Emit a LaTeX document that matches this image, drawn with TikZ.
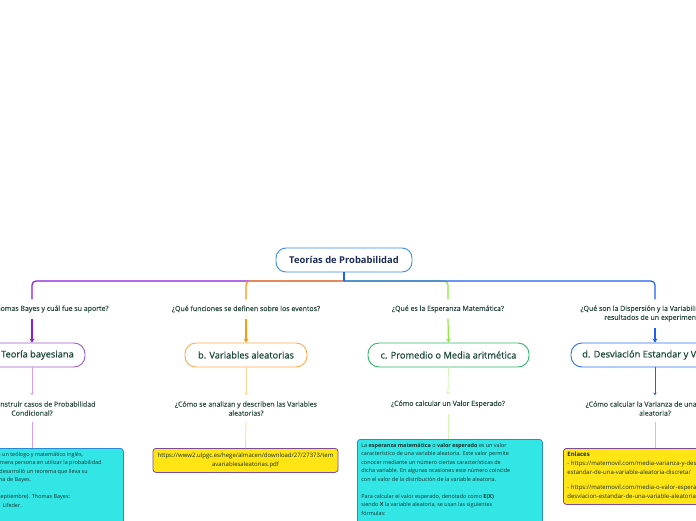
\documentclass[tikz,border=0pt]{standalone}
\usepackage{fontspec}
\setmainfont{Open Sans}
\newfontfamily\medfont{Open Sans}[FakeBold=0.6]
\newfontfamily\lblfont{Open Sans}[FakeBold=0.25]
\usetikzlibrary{arrows.meta}
\definecolor{rootblue}{HTML}{3A8EE0}
\definecolor{rootText}{HTML}{1D2C5A}
\definecolor{boxText}{HTML}{1E4A3B}
\definecolor{labelText}{HTML}{2B4A40}
\definecolor{noteText}{HTML}{17302A}
\definecolor{purpleMain}{HTML}{8A1CE0}
\definecolor{purpleBox}{HTML}{9B5CC8}
\definecolor{purpleLight}{HTML}{D8A0F2}
\definecolor{orangeMain}{HTML}{FF9A0D}
\definecolor{orangeBox}{HTML}{FFA94D}
\definecolor{orangeLight}{HTML}{FFD699}
\definecolor{greenMain}{HTML}{8CEB3F}
\definecolor{greenBox}{HTML}{30B86B}
\definecolor{greenLight}{HTML}{D6F5B3}
\definecolor{blueMain}{HTML}{1E5EF0}
\definecolor{blueBox}{HTML}{2B6FF2}
\definecolor{blueLight}{HTML}{B5C9F2}
\definecolor{cyanFill}{HTML}{33E6E6}
\definecolor{cyanBorder}{HTML}{2A8AD4}
\definecolor{yellowFill}{HTML}{FFE514}
\definecolor{yellowBorder}{HTML}{7A4C9C}
\begin{document}
\begin{tikzpicture}[x=1pt,y=-1pt,
  rootbox/.style={draw=rootblue, line width=0.9pt, rounded corners=10pt, fill=white,
    minimum width=136pt, minimum height=24pt, inner sep=0pt, text=rootText,
    font=\fontsize{9.4}{11}\selectfont\bfseries},
  lvlbox/.style={draw, line width=0.9pt, rounded corners=11pt, fill=white,
    minimum height=24pt, inner sep=0pt, text=boxText, font=\medfont\fontsize{9.3}{11}\selectfont},
  qlabel/.style={align=center, inner xsep=2pt, inner ysep=6pt, text=labelText,
    font=\lblfont\fontsize{7}{9}\selectfont},
  notebox/.style={draw, line width=0.8pt, rounded corners=3pt, inner xsep=4pt, inner ysep=3.5pt,
    text=noteText, font=\fontsize{5.45}{8.5}\selectfont, anchor=north west},
  linkfont/.style={font=\fontsize{6}{9}\selectfont},
  branch/.style={line width=1.2pt, rounded corners=4pt},
  arr/.style={line width=1.2pt, -{Stealth[length=4pt,width=5pt]}},
  lowarr/.style={line width=0.8pt, -{Stealth[length=2.5pt,width=3.5pt]}},
  lowline/.style={line width=0.8pt}
]
\clip (0,0) rectangle (696,520);
\fill[white] (0,0) rectangle (696,520);

% root
\node[rootbox] (root) at (344,260) {Teorías de Probabilidad};
\coordinate (hub) at (344,281);

% level-1 questions
\node[qlabel] (qa) at (32,309) {¿Quién fue Thomas Bayes y cuál fue su aporte?};
\node[qlabel] (qb) at (246,309) {¿Qué funciones se definen sobre los eventos?};
\node[qlabel] (qc) at (448,309) {¿Qué es la Esperanza Matemática?};
\node[qlabel] (qd) at (655,313.5) {¿Qué son la Dispersión y la Variabilidad de los\\resultados de un experimento?};

% level-1 boxes
\node[lvlbox, draw=purpleBox, minimum width=106pt] (ta) at (32,355) {a. Teoría bayesiana};
\node[lvlbox, draw=orangeBox, minimum width=122pt] (tb) at (246,355) {b. Variables aleatorias};
\node[lvlbox, draw=greenBox, minimum width=161pt] (tc) at (448.5,355) {c. Promedio o Media aritmética};
\node[lvlbox, draw=blueBox, minimum width=168pt] (td) at (655,355) {d. Desviación Estandar y Varianza};

% level-2 questions
\node[qlabel] (ra) at (32,408.5) {¿Cómo construir casos de Probabilidad\\Condicional?};
\node[qlabel] (rb) at (246,408.5) {¿Cómo se analizan y describen las Variables\\aleatorias?};
\node[qlabel] (rc) at (448,404) {¿Cómo calcular un Valor Esperado?};
\node[qlabel] (rd) at (655,408.5) {¿Cómo calcular la Varianza de una variable\\aleatoria?};

% notes
\node[notebox, draw=cyanBorder, fill=cyanFill] (na) at (-50,448) {\parbox[t][110pt][t]{165pt}{%
Thomas Bayes fue un teólogo y matemático inglés,\\
considerado la primera persona en utilizar la probabilidad\\
inductivamente y desarrolló un teorema que lleva su\\
nombre, el Teorema de Bayes.\\[8.5pt]
Lifeder (2019, 29 septiembre). Thomas Bayes:\\
Biografía, aportes. Lifeder.}};
\node[notebox, linkfont, draw=yellowBorder, fill=yellowFill, anchor=north, minimum width=185pt, minimum height=24pt, align=center] (nb) at (245.5,448) {https://www2.ulpgc.es/hege/almacen/download/27/27373/tem\\avariablesaleatorias.pdf};
\node[notebox, draw=cyanBorder, fill=cyanFill] (nc) at (357,439) {\parbox[t][110pt][t]{177pt}{%
La \textbf{esperanza matemática} o \textbf{valor esperado} es un valor\\
característico de una variable aleatoria. Este valor permite\\
conocer mediante un número ciertas características de\\
dicha variable. En algunas ocasiones este número coincide\\
con el valor de la distribución de la variable aleatoria.\\[8.5pt]
Para calcular el valor esperado, denotado como \textbf{E(X)}\\
siendo \textbf{X} la variable aleatoria, se usan las siguientes\\
fórmulas:}};
\node[notebox, linkfont, draw=yellowBorder, fill=yellowFill] (nd) at (563,448) {\parbox[t][49pt][t]{176pt}{%
\textbf{Enlaces}\\
- https://matemovil.com/media-varianza-y-desviacion-\\
estandar-de-una-variable-aleatoria-discreta/\\[6pt]
- https://matemovil.com/media-o-valor-esperado-varianza-y-\\
desviacion-estandar-de-una-variable-aleatoria-continua/}};

% main branches
\draw[branch, purpleMain] (hub) -| (qa.north);
\draw[branch, orangeMain] (hub) -| (qb.north);
\draw[branch, greenMain] (hub) -| (qc.north);
\draw[branch, blueMain] (hub) -| (qd.north);
\draw[line width=1.2pt, blueMain] (root.south) -- (hub);

% arrows to level-1 boxes
\draw[arr, purpleMain] (qa.south) -- (ta.north);
\draw[arr, orangeMain] (qb.south) -- (tb.north);
\draw[arr, greenMain] (qc.south) -- (tc.north);
\draw[arr, blueMain] (qd.south) -- (td.north);

% lower connectors
\draw[lowarr, purpleLight] (ta.south) -- (ra.north);
\draw[lowarr, orangeLight] (tb.south) -- (rb.north);
\draw[lowarr, greenLight] (tc.south) -- (rc.north);
\draw[lowarr, blueMain, line width=1pt] (td.south) -- (rd.north);

\draw[lowline, purpleLight] (ra.south) -- (na.north -| ra.south);
\draw[lowline, orangeLight] (rb.south) -- (nb.north);
\draw[lowline, greenLight] (rc.south) -- (nc.north -| rc.south);
\draw[lowline, blueLight] (rd.south) -- (nd.north -| rd.south);
\end{tikzpicture}
\end{document}
